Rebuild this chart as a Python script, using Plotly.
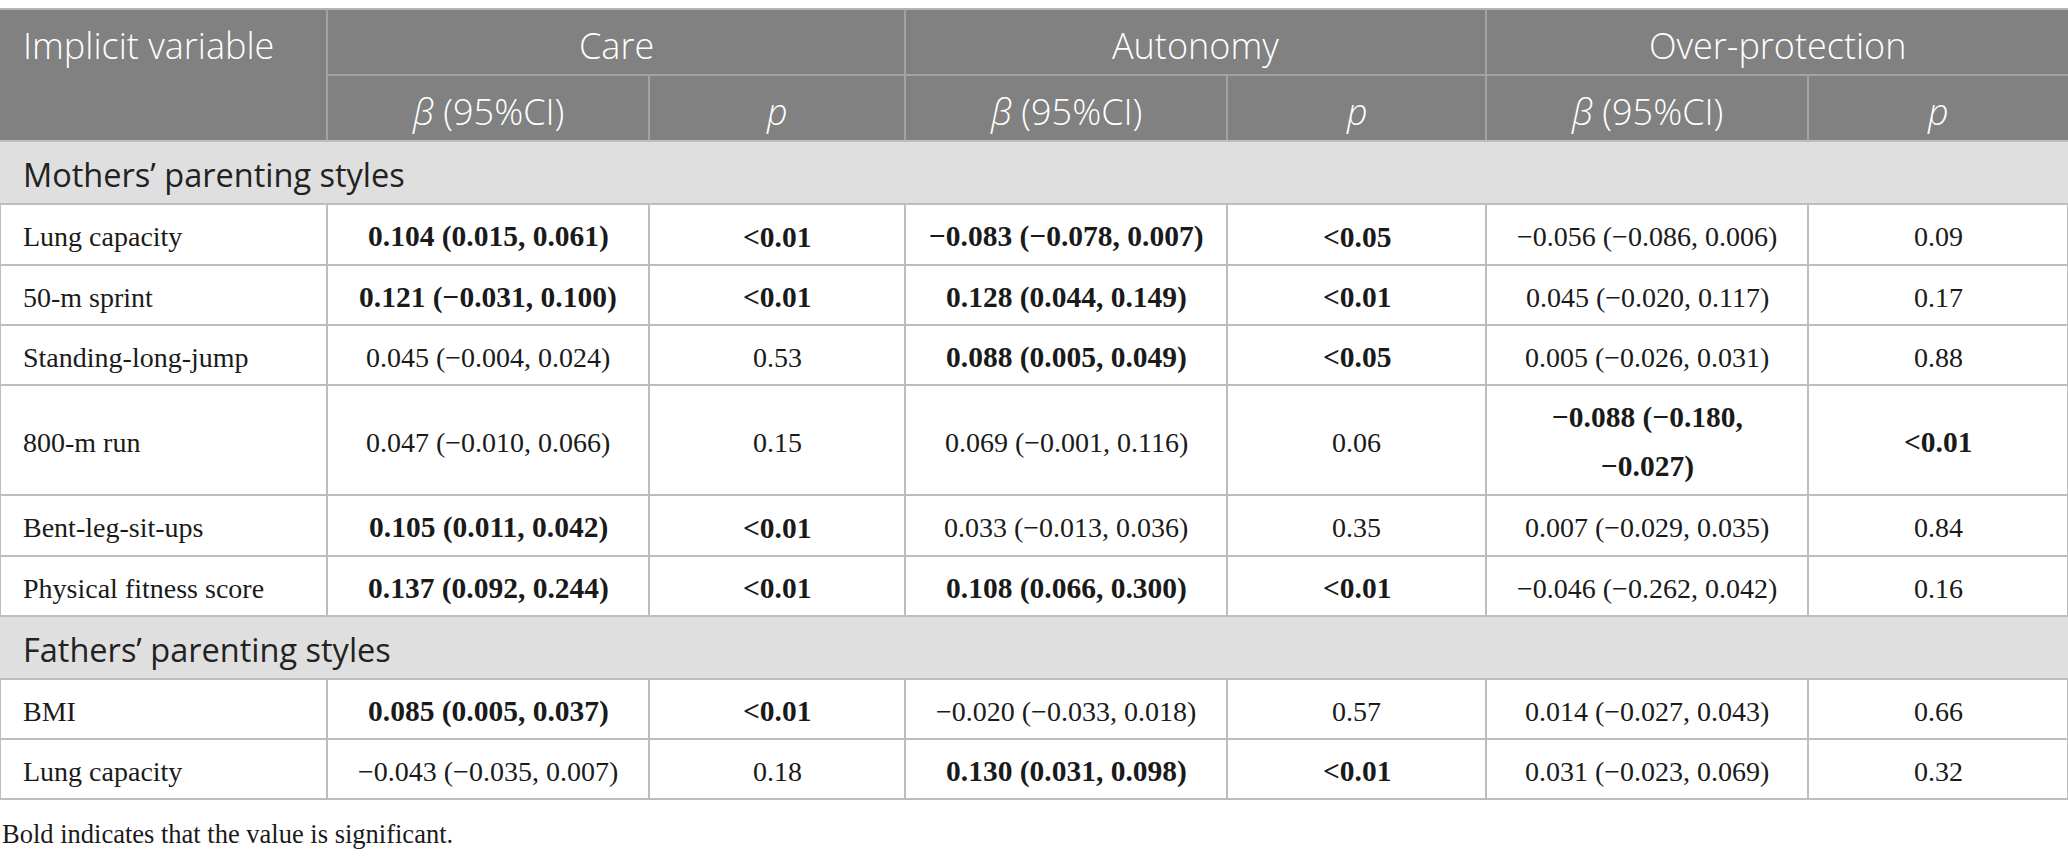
import plotly.graph_objects as go

# table content
sections = ["Mothers’ parenting styles", "Fathers’ parenting styles"]
mother_vars = ["Lung capacity", "50-m sprint", "Standing-long-jump", "800-m run",
               "Bent-leg-sit-ups", "Physical fitness score"]
father_vars = ["BMI", "Lung capacity"]

groups = ["Care", "Autonomy", "Over-protection"]
sub_headers = ["<i>β</i> (95%CI)", "<i>p</i>"]

care_beta = ["0.104 (0.015, 0.061)", "0.121 (−0.031, 0.100)", "0.045 (−0.004, 0.024)",
             "0.047 (−0.010, 0.066)", "0.105 (0.011, 0.042)", "0.137 (0.092, 0.244)",
             "0.085 (0.005, 0.037)", "−0.043 (−0.035, 0.007)"]
care_p = ["<0.01", "<0.01", "0.53", "0.15", "<0.01", "<0.01", "<0.01", "0.18"]
care_sig = [1, 1, 0, 0, 1, 1, 1, 0]

autonomy_beta = ["−0.083 (−0.078, 0.007)", "0.128 (0.044, 0.149)", "0.088 (0.005, 0.049)",
                 "0.069 (−0.001, 0.116)", "0.033 (−0.013, 0.036)", "0.108 (0.066, 0.300)",
                 "−0.020 (−0.033, 0.018)", "0.130 (0.031, 0.098)"]
autonomy_p = ["<0.05", "<0.01", "<0.05", "0.06", "0.35", "<0.01", "0.57", "<0.01"]
autonomy_sig = [1, 1, 1, 0, 0, 1, 0, 1]

over_beta = ["−0.056 (−0.086, 0.006)", "0.045 (−0.020, 0.117)", "0.005 (−0.026, 0.031)",
             "−0.088 (−0.180, −0.027)", "0.007 (−0.029, 0.035)", "−0.046 (−0.262, 0.042)",
             "0.014 (−0.027, 0.043)", "0.031 (−0.023, 0.069)"]
over_p = ["0.09", "0.17", "0.88", "<0.01", "0.84", "0.16", "0.66", "0.32"]
over_sig = [0, 0, 0, 1, 0, 0, 0, 0]

footnote = "Bold indicates that the value is significant."

# layout (pixels)
W, H = 2068, 856
col_x = [0, 327, 649, 905, 1227, 1486, 1808, 2068]
head_top, head_mid, head_bot = 9, 75, 141
row_heights = [63, 61, 60, 60, 110, 61, 60, 63, 60, 60]   # section, 6 rows, section, 2 rows

HEAD_BG = "#808180"
SEC_BG = "#e0dfe0"
HEAD_LINE = "#a3a3a3"
GRID = "#bdbdbd"
TXT = "#1a1a1a"
SANS = "Open Sans"
SERIF = "Liberation Serif"

fig = go.Figure()
fig.add_trace(go.Scatter(x=[0, W], y=[0, H], mode="markers", marker=dict(opacity=0),
                         hoverinfo="skip", showlegend=False))

shapes = []
annots = []


def rect(x0, y0, x1, y1, color):
    shapes.append(dict(type="rect", xref="x", yref="y", x0=x0, y0=y0, x1=x1, y1=y1,
                       fillcolor=color, line=dict(width=0), layer="below"))


def line(x0, y0, x1, y1, color, w=2):
    shapes.append(dict(type="line", xref="x", yref="y", x0=x0, y0=y0, x1=x1, y1=y1,
                       line=dict(color=color, width=w)))


def text(x, y, s, anchor="center", size=28, family=SERIF, color=TXT, weight=None):
    f = dict(family=family, size=size, color=color)
    if weight:
        f["weight"] = weight
    annots.append(dict(x=x, y=y, xref="x", yref="y", text=s, showarrow=False,
                       xanchor=anchor, yanchor="middle", font=f))


def esc(s):
    return s.replace("<", "&lt;")


# header
rect(0, head_top, W, head_bot, HEAD_BG)
line(0, head_top, W, head_top, "#b5b5b5")
line(col_x[1], head_top, col_x[1], head_bot, HEAD_LINE)
line(col_x[3], head_top, col_x[3], head_bot, HEAD_LINE)
line(col_x[5], head_top, col_x[5], head_bot, HEAD_LINE)
line(col_x[1], head_mid, W, head_mid, HEAD_LINE)
for c in (2, 4, 6):
    line(col_x[c], head_mid, col_x[c], head_bot, HEAD_LINE)

text(21, (head_top + head_mid) / 2 + 3, "Implicit variable", anchor="left", size=36,
     family=SANS, color="white", weight=300)
for g, name in enumerate(groups):
    cx = (col_x[1 + 2 * g] + col_x[3 + 2 * g]) / 2
    text(cx, (head_top + head_mid) / 2 + 3, name, size=36, family=SANS, color="white", weight=300)
    for k, sub in enumerate(sub_headers):
        cx = (col_x[1 + 2 * g + k] + col_x[2 + 2 * g + k]) / 2
        text(cx, (head_mid + head_bot) / 2 + 3, sub, size=36, family=SANS, color="white", weight=300)

# body rows
betas = [care_beta, autonomy_beta, over_beta]
pvals = [care_p, autonomy_p, over_p]
sigs = [care_sig, autonomy_sig, over_sig]

rows = [("sec", sections[0])] + [("var", v) for v in mother_vars] + \
       [("sec", sections[1])] + [("var", v) for v in father_vars]

y = head_bot
i = 0
for (kind, label), h in zip(rows, row_heights):
    y0, y1 = y, y + h
    yc = (y0 + y1) / 2
    if kind == "sec":
        rect(0, y0, W, y1, SEC_BG)
        text(21, yc + 2, label, anchor="left", size=32.5, family=SANS, color="#222222")
    else:
        for cx in col_x:
            line(cx, y0, cx, y1, GRID)
        text(21, yc + 2, label, anchor="left")
        for g in range(3):
            bold = sigs[g][i] == 1
            cells = [betas[g][i], pvals[g][i]]
            for k, s in enumerate(cells):
                cx = (col_x[1 + 2 * g + k] + col_x[2 + 2 * g + k]) / 2
                # long bold estimates wrap onto two lines in the tall row
                parts = [s]
                if bold and len(s) > 22:
                    cut = s.rfind(", ") + 1
                    parts = [s[:cut], s[cut + 1:]]
                for j, part in enumerate(parts):
                    off = (j - (len(parts) - 1) / 2) * 49
                    t = esc(part)
                    if bold:
                        text(cx, yc + 2 + off, "<b>" + t + "</b>", size=29.5)
                    else:
                        text(cx, yc + 2 + off, t)
        i += 1
    line(0, y1, W, y1, GRID)
    y = y1

line(0, head_bot, W, head_bot, GRID)
text(0, 834, footnote, anchor="left", size=26.5)

fig.update_layout(
    width=W, height=H,
    margin=dict(l=0, r=0, t=0, b=0),
    paper_bgcolor="white", plot_bgcolor="white",
    xaxis=dict(range=[0, W], visible=False, fixedrange=True),
    yaxis=dict(range=[H, 0], visible=False, fixedrange=True),
    shapes=shapes, annotations=annots,
    showlegend=False,
)

fig.write_html("out.html", config=dict(displayModeBar=False),
               post_script="document.body.style.margin='0';")
